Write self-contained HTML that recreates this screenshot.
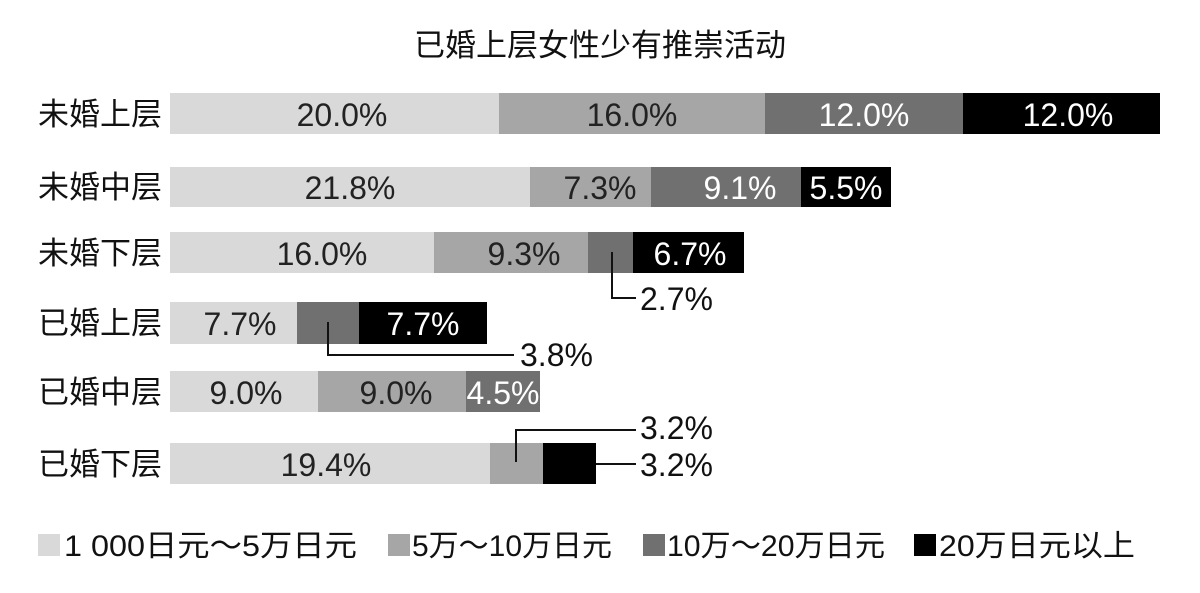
<!DOCTYPE html>
<html><head><meta charset="utf-8"><style>
html,body{margin:0;padding:0;background:#fff}
svg text{font-family:"Liberation Sans","Noto Sans CJK SC",sans-serif}
</style></head><body>
<svg width="1200" height="588" xmlns="http://www.w3.org/2000/svg">
<rect width="1200" height="588" fill="#fff"/>
<text x="600" y="56" font-size="31" text-anchor="middle" fill="#111">已婚上层女性少有推崇活动</text>
<g font-size="31" fill="#111">
<text x="38" y="125">未婚上层</text>
<text x="38" y="198">未婚中层</text>
<text x="38" y="264">未婚下层</text>
<text x="38" y="334">已婚上层</text>
<text x="38" y="403">已婚中层</text>
<text x="38" y="475">已婚下层</text>
</g>
<rect x="170" y="93" width="329" height="41" fill="#d9d9d9"/>
<rect x="499" y="93" width="266" height="41" fill="#a6a6a6"/>
<rect x="765" y="93" width="198" height="41" fill="#707070"/>
<rect x="963" y="93" width="197" height="41" fill="#000"/>
<rect x="170" y="167" width="360" height="40" fill="#d9d9d9"/>
<rect x="530" y="167" width="121" height="40" fill="#a6a6a6"/>
<rect x="651" y="167" width="150" height="40" fill="#707070"/>
<rect x="801" y="167" width="90" height="40" fill="#000"/>
<rect x="170" y="232" width="264" height="41" fill="#d9d9d9"/>
<rect x="434" y="232" width="154" height="41" fill="#a6a6a6"/>
<rect x="588" y="232" width="45" height="41" fill="#707070"/>
<rect x="633" y="232" width="111" height="41" fill="#000"/>
<rect x="170" y="302" width="127" height="42" fill="#d9d9d9"/>
<rect x="297" y="302" width="62" height="42" fill="#707070"/>
<rect x="359" y="302" width="128" height="42" fill="#000"/>
<rect x="170" y="371" width="148" height="41" fill="#d9d9d9"/>
<rect x="318" y="371" width="148" height="41" fill="#a6a6a6"/>
<rect x="466" y="371" width="74" height="41" fill="#707070"/>
<rect x="170" y="443" width="320" height="41" fill="#d9d9d9"/>
<rect x="490" y="443" width="53" height="41" fill="#a6a6a6"/>
<rect x="543" y="443" width="53" height="41" fill="#000"/>
<g font-size="32" text-anchor="middle">
<text x="342" y="126" fill="#222">20.0%</text>
<text x="632" y="126" fill="#222">16.0%</text>
<text x="864" y="126" fill="#fff">12.0%</text>
<text x="1068" y="126" fill="#fff">12.0%</text>
<text x="350" y="199" fill="#222">21.8%</text>
<text x="600" y="199" fill="#222">7.3%</text>
<text x="740" y="199" fill="#fff">9.1%</text>
<text x="846" y="199" fill="#fff">5.5%</text>
<text x="322" y="265" fill="#222">16.0%</text>
<text x="524" y="265" fill="#222">9.3%</text>
<text x="690" y="265" fill="#fff">6.7%</text>
<text x="240" y="335" fill="#222">7.7%</text>
<text x="423" y="335" fill="#fff">7.7%</text>
<text x="246" y="404" fill="#222">9.0%</text>
<text x="396" y="404" fill="#222">9.0%</text>
<text x="503" y="404" fill="#fff">4.5%</text>
<text x="326" y="476" fill="#222">19.4%</text>
</g>
<g stroke="#111" stroke-width="2" fill="none">
<polyline points="612,252 612,298 636,298"/>
<polyline points="328,322 328,355 514,355"/>
<polyline points="516,462 516,430 636,430"/>
<line x1="596" y1="464" x2="636" y2="464"/>
</g>
<g font-size="32" fill="#111">
<text x="640" y="310">2.7%</text>
<text x="520" y="366">3.8%</text>
<text x="640" y="439">3.2%</text>
<text x="640" y="476">3.2%</text>
</g>
<g font-size="30" fill="#111">
<rect x="38" y="534" width="22" height="22" fill="#d9d9d9"/>
<text x="64" y="556" textLength="293" lengthAdjust="spacingAndGlyphs">1 000日元～5万日元</text>
<rect x="388" y="534" width="22" height="22" fill="#a6a6a6"/>
<text x="412" y="556" textLength="200" lengthAdjust="spacingAndGlyphs">5万～10万日元</text>
<rect x="643" y="534" width="22" height="22" fill="#707070"/>
<text x="667" y="556" textLength="218" lengthAdjust="spacingAndGlyphs">10万～20万日元</text>
<rect x="914" y="534" width="22" height="22" fill="#000"/>
<text x="939" y="556" textLength="196" lengthAdjust="spacingAndGlyphs">20万日元以上</text>
</g>
</svg>
</body></html>
